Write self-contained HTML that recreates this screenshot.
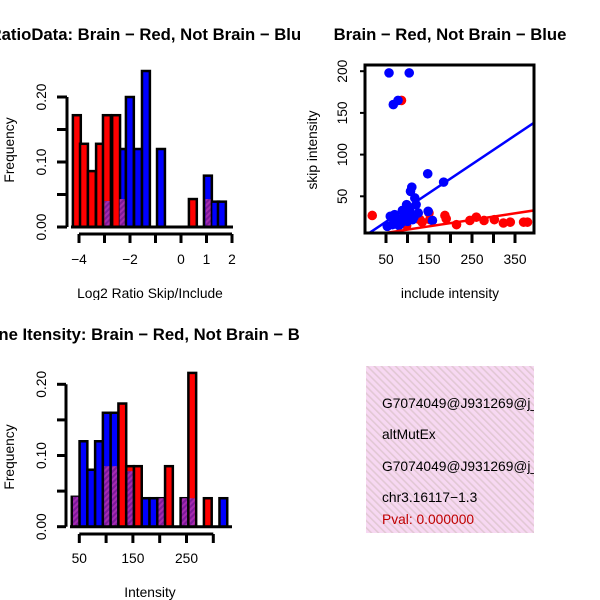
<!DOCTYPE html>
<html><head><meta charset="utf-8"><style>
html,body{margin:0;padding:0;background:#fff;}
svg{display:block;font-family:"Liberation Sans",Arial,sans-serif;}
</style></head><body>
<svg id="chart" width="600" height="600" viewBox="0 0 600 600">
<defs>
<pattern id="hatch" patternUnits="userSpaceOnUse" width="4" height="4" patternTransform="rotate(45)">
<rect width="4" height="4" fill="#a52bb0"/><rect width="2" height="4" fill="#7d1a9a"/>
</pattern>
<pattern id="pinkhatch" patternUnits="userSpaceOnUse" width="5" height="5" patternTransform="rotate(-45)">
<rect width="5" height="5" fill="#f7d8f2"/><rect width="1.6" height="5" fill="#e2c8d4"/>
</pattern>
<clipPath id="c1"><rect x="0" y="0" width="300" height="300"/></clipPath>
<clipPath id="c3"><rect x="0" y="300" width="300" height="300"/></clipPath>
<clipPath id="c2"><rect x="365" y="65" width="169" height="168"/></clipPath>
<clipPath id="c4"><rect x="366" y="366" width="168" height="167"/></clipPath>
</defs>
<g id="p1" clip-path="url(#c1)"></g>
<g id="p2"></g>
<g id="p3" clip-path="url(#c3)"></g>
<g id="p4">
<rect x="366" y="366" width="168" height="167" fill="url(#pinkhatch)"/>
<g clip-path="url(#c4)" font-size="13.8">
<text x="382" y="408">G7074049@J931269@j_1</text>
<text x="382" y="439">altMutEx</text>
<text x="382" y="471">G7074049@J931269@j_1</text>
<text x="382" y="502">chr3.16117−1.3</text>
<text x="382" y="524" fill="#c00000">Pval: 0.000000</text>
</g>
</g>
</svg>
<script>
// ---- Panel 1 data: Log2 ratio histogram ----
const ratioRedX = [-4.24, -3.96, -3.65, -3.33, -3.06, -2.70, 0.31];
const ratioRedF = [0.172, 0.128, 0.086, 0.128, 0.172, 0.172, 0.043];
const ratioBlueX = [-2.47, -2.16, -1.84, -1.53, -0.94, 0.90, 1.18, 1.45];
const ratioBlueF = [0.12, 0.20, 0.12, 0.24, 0.12, 0.079, 0.039, 0.039];
const ratioPurpleX = [-3.06, -2.47, 0.90];
const ratioPurpleF = [0.04, 0.043, 0.043];
const ratioXTicks = [-4, -3, -2, -1, 0, 1, 2];
const ratioXLabels = ["−4", "", "−2", "", "0", "1", "2"];
const freqTicks = [0, 0.05, 0.10, 0.15, 0.20];
const freqLabels = ["0.00", "", "0.10", "", "0.20"];
// ---- Panel 2 data: scatter ----
const blueInc = [57,104,67,78,147,184,110,107,117,148,158,53,70,78,85,90,95,100,105,110,115,120,125,80,72,98,88,60,65,112];
const blueSkip = [198,198,160,165,77,67,61,56,48,32,21,14,28,22,18,25,30,20,35,28,25,40,30,15,20,40,33,26,16,22];
const redInc = [18,86,98,129,134,152,187,190,214,245,260,278,302,323,339,370,379,150,125,95];
const redSkip = [27,165,15,22,19,22,27,23,16,21,25,21,22,18,19,19,19,30,23,18];
const fitIntercept = [2.2, 2.3];   // blue, red
const fitSlope = [0.345, 0.078];
const scatterXTicks = [50,100,150,200,250,300,350];
const scatterXLabels = ["50","","150","","250","","350"];
const scatterYTicks = [50,100,150,200];
// ---- Panel 3 data: intensity histogram (bin width 14.5) ----
const intLeft = [36,50.5,65,79.5,94,108.5,123,137.5,152,166.5,181,195.5,210,224.5,239,253.5,268,282.5,297,311.5];
const intRedF = [0.042,0,0,0,0.085,0.085,0.173,0.085,0.085,0,0,0.04,0.085,0,0.04,0.216,0,0.04,0,0];
const intBlueF = [0.042,0.12,0.08,0.12,0.16,0.16,0,0.078,0,0.04,0.04,0.04,0,0,0.04,0.04,0,0,0,0.04];
const intXTicks = [50,100,150,200,250,300];
const intXLabels = ["50","","150","","250",""];

const NS = "http://www.w3.org/2000/svg";
const LAB = 13.8, TITLE = 16.7;
function mk(parent, tag, attrs, text){
  const e = document.createElementNS(NS, tag);
  for (const k in attrs) e.setAttribute(k, attrs[k]);
  if (text !== undefined) e.textContent = text;
  parent.appendChild(e); return e;
}
function txt(parent, x, y, s, opts){
  const t = mk(parent, "text", {x:x, y:y, "font-size": opts.size||LAB, "text-anchor": opts.anchor||"middle"}, s);
  if (opts.rot) t.setAttribute("transform", `rotate(-90 ${x} ${y})`);
  if (opts.bold) t.setAttribute("font-weight", "bold");
  return t;
}

// ===== Panel 1 =====
(function(){
  const g = document.getElementById("p1");
  const sx = u => 181 + u*25.5;
  const sy = f => 227 - f*650;
  const w = 0.31;
  const t = txt(g, 150, 40, "RatioData: Brain − Red, Not Brain − Blue", {size:TITLE, bold:true});
  
  
  ratioBlueX.forEach((x,i)=>{
    const r = mk(g,"rect",{x:sx(x), y:sy(ratioBlueF[i]), width:sx(x+w)-sx(x), height:sy(0)-sy(ratioBlueF[i]), fill:"#0000ff", stroke:"#000", "stroke-width":2.5});
    
    
  });
  ratioRedX.forEach((x,i)=>{
    const r = mk(g,"rect",{x:sx(x), y:sy(ratioRedF[i]), width:sx(x+w)-sx(x), height:sy(0)-sy(ratioRedF[i]), fill:"#ff0000", stroke:"#000", "stroke-width":2.5});
    
    
  });
  ratioPurpleX.forEach((x,i)=>{
    const r = mk(g,"rect",{x:sx(x)+1.5, y:sy(ratioPurpleF[i]), width:sx(x+w*0.85)-sx(x)-1.5, height:sy(0)-sy(ratioPurpleF[i]), fill:"url(#hatch)"});
    
    
  });
  mk(g,"line",{x1:71,x2:233,y1:227,y2:227,stroke:"#000","stroke-width":3});
  mk(g,"line",{x1:67,x2:67,y1:sy(0),y2:sy(0.20),stroke:"#000","stroke-width":3});
  freqTicks.forEach((f,i)=>{
    mk(g,"line",{x1:57,x2:67,y1:sy(f),y2:sy(f),stroke:"#000","stroke-width":3});
    if (freqLabels[i]) { const l = txt(g, 46, sy(f), freqLabels[i], {rot:true});   }
  });
  mk(g,"line",{x1:sx(-4),x2:sx(2),y1:234,y2:234,stroke:"#000","stroke-width":3});
  ratioXTicks.forEach((v,i)=>{
    mk(g,"line",{x1:sx(v),x2:sx(v),y1:234,y2:243,stroke:"#000","stroke-width":3});
    if (ratioXLabels[i]) { const l = txt(g, sx(v), 264, ratioXLabels[i], {});   }
  });
  const yl = txt(g, 14, 150, "Frequency", {rot:true});
  
  
  const xl = txt(g, 150, 298, "Log2 Ratio Skip/Include", {});
  
  
})();

// ===== Panel 2 =====
(function(){
  const g = document.getElementById("p2");
  const sx = v => 364.5 + v*0.43;
  const sy = v => 238 - v*0.834;
  const t = txt(g, 450, 40, "Brain − Red, Not Brain − Blue", {size:TITLE, bold:true});
  
  
  const pg = mk(g,"g",{"clip-path":"url(#c2)"});
  redInc.forEach((x,i)=>{
    const c = mk(pg,"circle",{cx:sx(x), cy:sy(redSkip[i]), r:4.8, fill:"#ff0000"});
    
    
  });
  blueInc.forEach((x,i)=>{
    const c = mk(pg,"circle",{cx:sx(x), cy:sy(blueSkip[i]), r:4.8, fill:"#0000ff"});
    
    
  });
  const cols = ["#0000ff","#ff0000"];
  fitIntercept.forEach((a,i)=>{
    const x0 = 0, x1 = 400;
    const l = mk(pg,"line",{x1:sx(x0),y1:sy(a+fitSlope[i]*x0),x2:sx(x1),y2:sy(a+fitSlope[i]*x1),stroke:cols[i],"stroke-width":2.5});
    
    
  });
  mk(g,"rect",{x:365,y:65,width:169,height:168,fill:"none",stroke:"#000","stroke-width":3});
  scatterXTicks.forEach((v,i)=>{
    mk(g,"line",{x1:sx(v),x2:sx(v),y1:233,y2:243,stroke:"#000","stroke-width":3});
    if (scatterXLabels[i]) { const l = txt(g, sx(v), 264, scatterXLabels[i], {});   }
  });
  scatterYTicks.forEach(v=>{
    mk(g,"line",{x1:360,x2:365,y1:sy(v),y2:sy(v),stroke:"#000","stroke-width":2});
    const l = txt(g, 347, sy(v), String(v), {rot:true});
    
    
  });
  const yl = txt(g, 317, 150, "skip intensity", {rot:true});
  
  
  const xl = txt(g, 450, 298, "include intensity", {});
  
  
})();

// ===== Panel 3 =====
(function(){
  const g = document.getElementById("p3");
  const sx = v => 79.3 + (v-50)*0.536;
  const sy = f => 526.7 - f*712;
  const w = 14.5;
  const t = txt(g, 150, 340, "Gene Itensity: Brain − Red, Not Brain − Blue", {size:TITLE, bold:true});
  
  
  intLeft.forEach((x,i)=>{
    const rf = intRedF[i], bf = intBlueF[i];
    const hi = Math.max(rf,bf), lo = Math.min(rf,bf);
    if (hi <= 0) return;
    const col = rf > bf ? "#ff0000" : (bf > rf ? "#0000ff" : "url(#hatch)");
    const r = mk(g,"rect",{x:sx(x), y:sy(hi), width:sx(x+w)-sx(x), height:sy(0)-sy(hi), fill:col, stroke:"#000","stroke-width":2.5});
    
    
    if (lo > 0) {
      const p = mk(g,"rect",{x:sx(x)+1.3, y:sy(lo), width:sx(x+w)-sx(x)-2.6, height:sy(0)-sy(lo), fill:"url(#hatch)"});
      
      
    }
  });
  mk(g,"line",{x1:70,x2:232,y1:526.7,y2:526.7,stroke:"#000","stroke-width":3});
  mk(g,"line",{x1:66,x2:66,y1:sy(0),y2:sy(0.20),stroke:"#000","stroke-width":3});
  freqTicks.forEach((f,i)=>{
    mk(g,"line",{x1:57,x2:66,y1:sy(f),y2:sy(f),stroke:"#000","stroke-width":3});
    if (freqLabels[i]) { const l = txt(g, 46, sy(f), freqLabels[i], {rot:true});   }
  });
  mk(g,"line",{x1:sx(50),x2:sx(300),y1:534,y2:534,stroke:"#000","stroke-width":3});
  intXTicks.forEach((v,i)=>{
    mk(g,"line",{x1:sx(v),x2:sx(v),y1:534,y2:543,stroke:"#000","stroke-width":3});
    if (intXLabels[i]) { const l = txt(g, sx(v), 563, intXLabels[i], {});   }
  });
  const yl = txt(g, 14, 457, "Frequency", {rot:true});
  
  
  const xl = txt(g, 150, 597, "Intensity", {});
  
  
})();
</script>
</body></html>
